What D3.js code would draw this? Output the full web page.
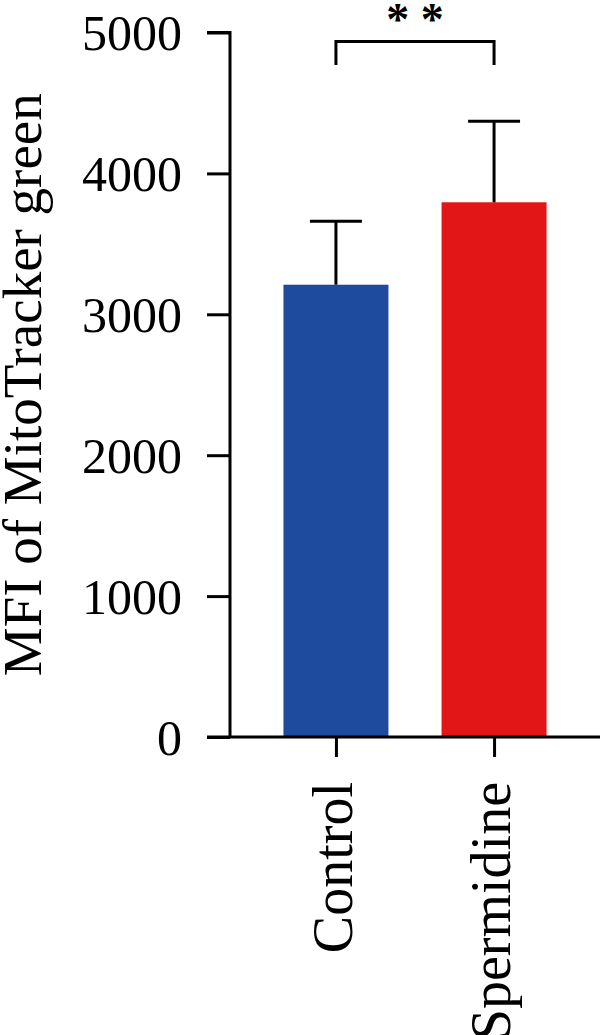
<!DOCTYPE html>
<html>
<head>
<meta charset="utf-8">
<script src="https://cdn.jsdelivr.net/npm/d3@7"></script>
<style>
  body { margin: 0; background: #fff; }
  svg text { font-family: "Liberation Serif", "DejaVu Serif", serif; fill: #000; }
</style>
</head>
<body>
<svg id="chart" width="600" height="1035"></svg>
<script>
// data
var groups = ["Control", "Spermidine"];
var means = [3210, 3795];
var errors = [450, 575];      // upper SD / SEM arm
var colors = ["#1f4b9e", "#e21617"];
var yTicks = [0, 1000, 2000, 3000, 4000, 5000];
var sigLabel = "* *";

var svg = d3.select("#chart");

var mLeft = 230, mRight = 600, mTop = 32.5, mBottom = 737;

var y = d3.scaleLinear()
	.domain([0, 5000])
	.range([mBottom, mTop]);

var x = d3.scalePoint()
	.domain(groups)
	.range([mLeft, mRight])
	.padding(0.67);

var barW = 105;

// bars
svg.selectAll("rect.bar")
	.data(groups)
	.enter()
	.append("rect")
	.attr("class", "bar")
	.attr("x", function(d){ return x(d) - barW/2; })
	.attr("width", barW)
	.attr("y", function(d,i){ return y(means[i]); })
	.attr("height", function(d,i){ return y(0) - y(means[i]); })
	.attr("fill", function(d,i){ return colors[i]; });

// error bars (upper only)
var err = svg.selectAll("g.err")
	.data(groups)
	.enter()
	.append("g")
	.attr("class", "err")
	.attr("stroke", "#000")
	.attr("stroke-width", 3);

err.append("line")
	.attr("x1", function(d){ return x(d); })
	.attr("x2", function(d){ return x(d); })
	.attr("y1", function(d,i){ return y(means[i]); })
	.attr("y2", function(d,i){ return y(means[i] + errors[i]); });

err.append("line")
	.attr("x1", function(d){ return x(d) - 26; })
	.attr("x2", function(d){ return x(d) + 26; })
	.attr("y1", function(d,i){ return y(means[i] + errors[i]); })
	.attr("y2", function(d,i){ return y(means[i] + errors[i]); });

// y axis
var yAxis = svg.append("g")
	.attr("transform", "translate(" + mLeft + ",0)")
	.call(d3.axisLeft(y).tickValues(yTicks).tickSize(23).tickPadding(25).tickFormat(d3.format("d")));

yAxis.select(".domain").attr("d", "M-23," + y(5000) + "H0V" + y(0));
yAxis.selectAll("path, line").attr("stroke", "#000").attr("stroke-width", 3);
yAxis.selectAll("text").attr("font-size", 50).attr("dy", "0.34em");

// x axis
var xAxis = svg.append("g")
	.attr("transform", "translate(0," + mBottom + ")")
	.call(d3.axisBottom(x).tickSize(20).tickPadding(25));

xAxis.select(".domain").attr("d", "M" + (mLeft - 23) + ",0H" + mRight);
xAxis.selectAll("path, line").attr("stroke", "#000").attr("stroke-width", 3);
xAxis.selectAll("text")
	.attr("font-size", 56)
	.attr("text-anchor", "end")
	.attr("transform", "rotate(-90)")
	.attr("x", -45)
	.attr("y", 0)
	.attr("dy", "0.28em");

// y title
svg.append("text")
	.attr("transform", "translate(41," + ((mBottom + mTop) / 2) + ") rotate(-90)")
	.attr("text-anchor", "middle")
	.attr("font-size", 55)
	.text("MFI of MitoTracker green");

// significance bracket
var x1 = x(groups[0]),
	x2 = x(groups[1]),
	by = 41.5;

svg.append("path")
	.attr("d", "M" + x1 + ",65V" + by + "H" + x2 + "V65")
	.attr("fill", "none")
	.attr("stroke", "#000")
	.attr("stroke-width", 3);

svg.append("text")
	.attr("x", (x1 + x2) / 2)
	.attr("y", 35)
	.attr("text-anchor", "middle")
	.attr("font-size", 46)
	.attr("font-weight", "bold")
	.text(sigLabel);
</script>
</body>
</html>
